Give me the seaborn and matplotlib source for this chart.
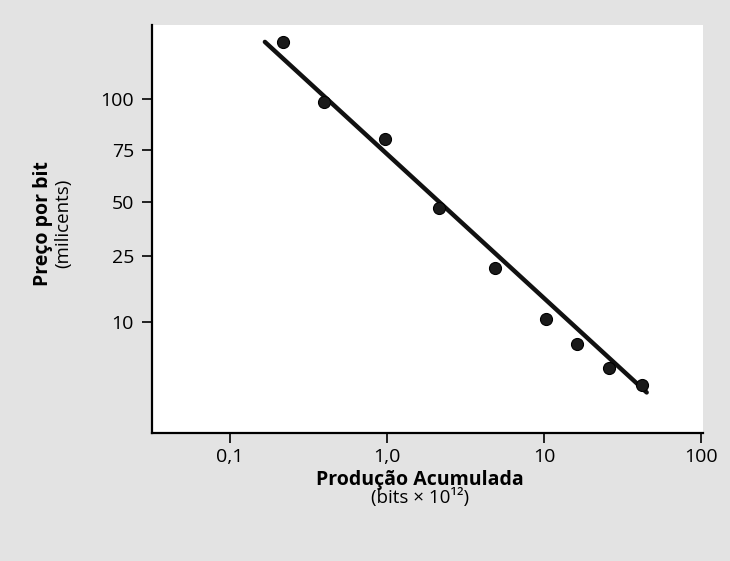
import numpy as np
import pandas as pd
import seaborn as sns
import matplotlib.pyplot as plt
from matplotlib.ticker import FixedLocator, FixedFormatter, NullLocator

# data
producao = [0.218, 0.399, 0.971, 2.14, 4.85, 10.3, 16.2, 25.8, 41.9]
preco = [138, 98.5, 79.8, 46.4, 21.1, 10.4, 7.4, 5.3, 4.2]
linha_x = [0.167, 45.1]
linha_y = [138, 3.81]

xticks = [0.1, 1, 10, 100]
xtick_labels = ["0,1", "1,0", "10", "100"]
yticks = [10, 25, 50, 75, 100]
ytick_labels = ["10", "25", "50", "75", "100"]

# the original y axis is drawn with uneven spacing: map tick values to the
# heights they sit at (pixels above the x axis) and extend the end segments
ytick_height = [110.7, 177.3, 230.7, 283.0, 334.0]
lv = np.log10(yticks)
hp = np.array(ytick_height)


def _pw(x, xp, fp):
    x = np.atleast_1d(np.asarray(x, dtype=float))
    y = np.interp(x, xp, fp)
    lo = x < xp[0]
    hi = x > xp[-1]
    y[lo] = fp[0] + (x[lo] - xp[0]) * (fp[1] - fp[0]) / (xp[1] - xp[0])
    y[hi] = fp[-1] + (x[hi] - xp[-1]) * (fp[-1] - fp[-2]) / (xp[-1] - xp[-2])
    return y


def fwd(v):
    v = np.clip(np.asarray(v, dtype=float), 1e-6, None)
    return _pw(np.log10(v), lv, hp)


def inv(h):
    return 10 ** _pw(h, hp, lv)


df = pd.DataFrame({"producao": producao, "preco": preco})
linha = pd.DataFrame({"x": linha_x, "y": linha_y})

sns.set_style("ticks")
plt.rcParams["font.family"] = ["Open Sans", "DejaVu Sans"]
plt.rcParams["text.color"] = "black"
plt.rcParams["xtick.color"] = "black"
plt.rcParams["ytick.color"] = "black"

fig = plt.figure(figsize=(7.30, 5.61), dpi=100, facecolor="#e3e3e3")
ax = fig.add_axes([152 / 730, 128 / 561, 551 / 730, 408 / 561])
ax.set_facecolor("white")

sns.lineplot(data=linha, x="x", y="y", color="#111111", linewidth=3.2, ax=ax)
sns.scatterplot(data=df, x="producao", y="preco", color="#1a1a1a", s=75,
                edgecolor="black", linewidth=0.8, ax=ax, zorder=3)

ax.set_xscale("log")
ax.set_yscale("function", functions=(fwd, inv))
ax.set_xlim(0.0319, 103)
ax.set_ylim(inv(0)[0], inv(408)[0])

ax.xaxis.set_major_locator(FixedLocator(xticks))
ax.xaxis.set_major_formatter(FixedFormatter(xtick_labels))
ax.xaxis.set_minor_locator(NullLocator())
ax.yaxis.set_major_locator(FixedLocator(yticks))
ax.yaxis.set_major_formatter(FixedFormatter(ytick_labels))
ax.yaxis.set_minor_locator(NullLocator())

ax.tick_params(axis="x", length=7, width=1.2, labelsize=14, pad=4,
               colors="black")
ax.tick_params(axis="y", length=7, width=1.2, labelsize=14, pad=6,
               colors="black")
sns.despine(ax=ax)
for s in ["left", "bottom"]:
    ax.spines[s].set_linewidth(1.6)
    ax.spines[s].set_color("black")

ax.set_xlabel("")
ax.set_ylabel("")

fig.text(420 / 730, 1 - 480 / 561, "Produção Acumulada", ha="center",
         va="center", fontsize=14, fontweight="bold")
fig.text(420 / 730, 1 - 498 / 561, "(bits × 10¹²)", ha="center",
         va="center", fontsize=13.5)
fig.text(43 / 730, 1 - 224 / 561, "Preço por bit", ha="center",
         va="center", fontsize=14, fontweight="bold", rotation=90)
fig.text(63 / 730, 1 - 223 / 561, "(milicents)", ha="center",
         va="center", fontsize=13.5, rotation=90)

fig.savefig("out.png", dpi=100, facecolor=fig.get_facecolor())
